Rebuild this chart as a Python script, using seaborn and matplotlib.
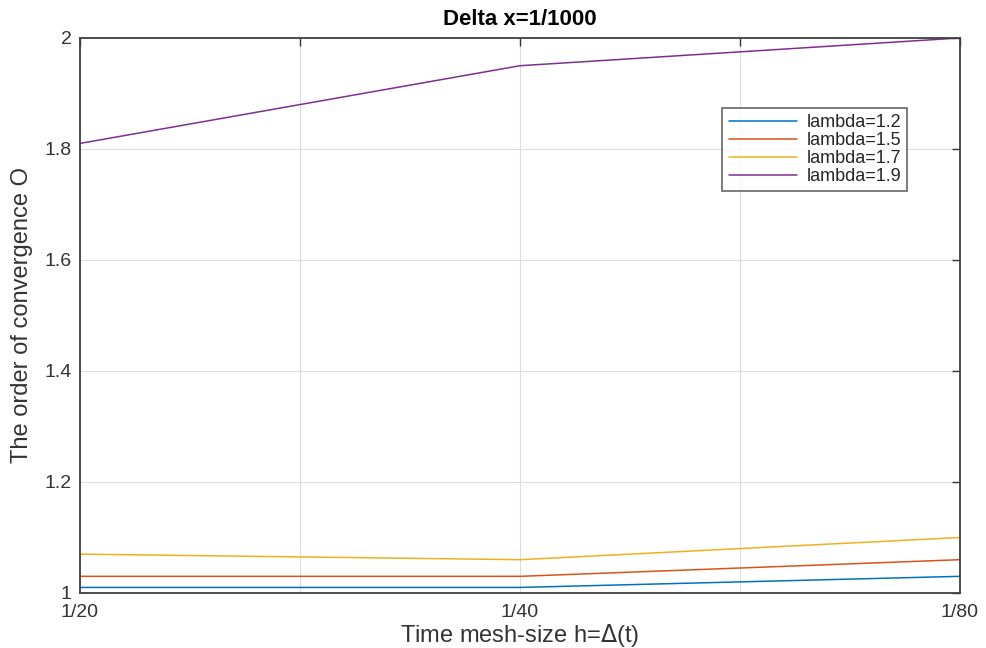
import matplotlib
matplotlib.use("Agg")
import matplotlib.pyplot as plt
import seaborn as sns
import pandas as pd

x_labels = ["1/20", "1/40", "1/80"]
x_pos = [1, 2, 3]
lam12 = [1.01, 1.01, 1.03]
lam15 = [1.03, 1.03, 1.06]
lam17 = [1.07, 1.06, 1.10]
lam19 = [1.81, 1.95, 2.00]
series_names = ["lambda=1.2", "lambda=1.5", "lambda=1.7", "lambda=1.9"]
colors = ["#0072BD", "#D95319", "#EDB120", "#7E2F8E"]

rows = []
for name, vals in zip(series_names, [lam12, lam15, lam17, lam19]):
    for xp, v in zip(x_pos, vals):
        rows.append({"x": xp, "y": v, "series": name})
df = pd.DataFrame(rows)

sns.set_style("white")
plt.rcParams["font.family"] = ["Liberation Sans", "DejaVu Sans"]

fig = plt.figure(figsize=(9.86, 6.48), dpi=100)
ax = fig.add_axes([0.0811, 0.0849, 0.8925, 0.8565])

sns.lineplot(data=df, x="x", y="y", hue="series", palette=colors,
             hue_order=series_names, ax=ax, linewidth=1.1, legend=True)

ax.set_xlim(1, 3)
ax.set_ylim(1, 2)
ax.set_xticks([1, 1.5, 2, 2.5, 3])
ax.set_xticklabels([x_labels[0], "", x_labels[1], "", x_labels[2]])
ax.set_yticks([1, 1.2, 1.4, 1.6, 1.8, 2])
ax.set_yticklabels(["1", "1.2", "1.4", "1.6", "1.8", "2"])
ax.grid(True, color="#dcdcdc", linewidth=0.8)
ax.tick_params(direction="in", top=True, right=True, length=6, width=1,
               colors="#333333", labelsize=14)
ax.tick_params(axis="x", pad=8)
ax.tick_params(axis="y", pad=6)
for s in ax.spines.values():
    s.set_color("#404040")
    s.set_linewidth(1.3)
    s.set_visible(True)

ax.set_xlabel("Time mesh-size h=$\\Delta$(t)", fontsize=17, color="#333333", labelpad=1)
ax.set_ylabel("The order of convergence O", fontsize=17, color="#333333", labelpad=8)
ax.set_title("Delta x=1/1000", fontsize=16, fontweight="bold", color="#000000", pad=9)

leg = ax.legend(loc="upper left", bbox_to_anchor=(0.730, 0.874), fontsize=13,
                frameon=True, fancybox=False, edgecolor="#404040",
                handlelength=3.8, borderpad=0.35, labelspacing=0.05,
                handletextpad=0.5, borderaxespad=0)
leg.get_frame().set_linewidth(1.2)

fig.savefig("out.png", dpi=100)
